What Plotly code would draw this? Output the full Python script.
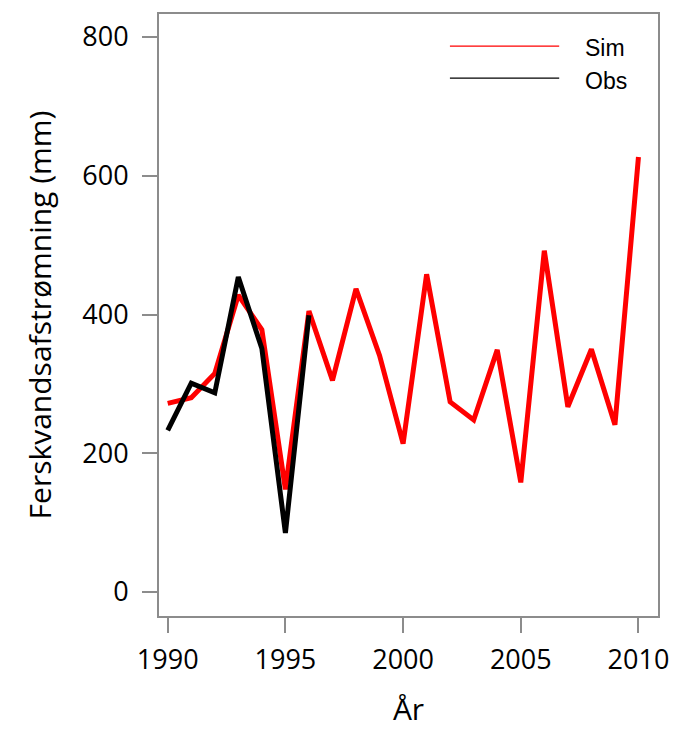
import plotly.graph_objects as go

# Données
aar_sim = list(range(1990, 2011))
sim = [272, 280, 315, 428, 378, 148, 405, 305, 437, 341, 214, 458, 274, 248, 349, 158, 492, 267, 350, 241, 627]

aar_obs = list(range(1990, 1997))
obs = [233, 301, 287, 454, 351, 85, 399]

x_ticks = [1990, 1995, 2000, 2005, 2010]
y_ticks = [0, 200, 400, 600, 800]

serie_noms = ['Sim', 'Obs']
serie_couleurs = ['red', 'black']

gris = '#8c8c8c'
police = 'Open Sans'

fig = go.Figure()

fig.add_trace(go.Scatter(
    x=aar_sim, y=sim, mode='lines', name='Sim',
    line=dict(color='red', width=5), showlegend=False
))
fig.add_trace(go.Scatter(
    x=aar_obs, y=obs, mode='lines', name='Obs',
    line=dict(color='black', width=5), showlegend=False
))

# Légende dessinée à la main (lignes longues et fines)
for i, (nom, couleur) in enumerate(zip(serie_noms, serie_couleurs)):
    yl = 0.9468 - i * 0.0533
    fig.add_shape(type='line', xref='paper', yref='paper',
                  x0=0.583, x1=0.802, y0=yl, y1=yl,
                  line=dict(color=couleur, width=1.2))
    fig.add_annotation(xref='paper', yref='paper', x=0.849, y=yl - 0.004,
                       text=nom, showarrow=False, xanchor='left', yanchor='middle',
                       font=dict(family='Liberation Sans', size=23, color='black'))

fig.update_layout(
    width=681, height=733,
    margin=dict(l=159, r=12, t=14, b=117),
    plot_bgcolor='white', paper_bgcolor='white',
    showlegend=False,
    font=dict(family=police, color='black'),
)

fig.update_xaxes(
    range=[1989.63, 2010.83], tickvals=x_ticks,
    showgrid=False, zeroline=False,
    showline=True, mirror=True, linecolor=gris, linewidth=2,
    ticks='outside', ticklen=15, tickwidth=2, tickcolor=gris,
    tickfont=dict(size=27), ticklabelstandoff=4, ticklabeloverflow='allow',
    title=dict(text='År', font=dict(size=30), standoff=23),
)
fig.update_yaxes(
    range=[-34.6, 833.2], tickvals=y_ticks,
    showgrid=False, zeroline=False,
    showline=True, mirror=True, linecolor=gris, linewidth=2,
    ticks='outside', ticklen=15, tickwidth=2, tickcolor=gris,
    tickfont=dict(size=27), ticklabelstandoff=8,
    title=dict(text='Ferskvandsafstrømning (mm)', font=dict(size=30), standoff=22),
)

# sans la marge par défaut du <body>, la figure remplit exactement la fenêtre
fig.write_html("out.html", config={'displayModeBar': False},
               post_script="document.body.style.margin = '0';")
